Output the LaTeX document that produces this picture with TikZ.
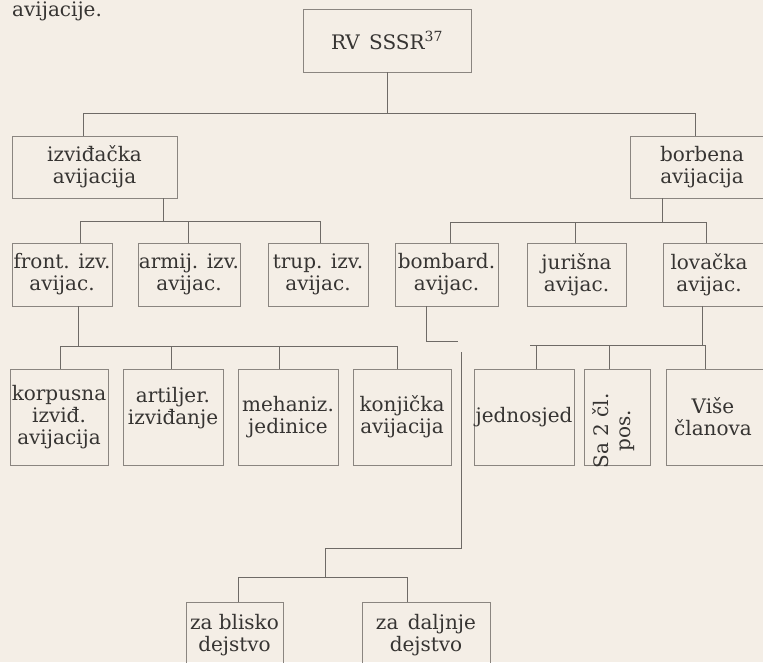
\documentclass[tikz,border=0pt]{standalone}
\usepackage{fontspec}
\setmainfont{DejaVu Serif}
\definecolor{paper}{HTML}{F4EEE6}
\definecolor{ink}{HTML}{363432}
\definecolor{rulec}{HTML}{6E6A66}
\definecolor{boxrule}{HTML}{8A8580}
\begin{document}
\begin{tikzpicture}[x=1pt,y=-1pt,
  txt/.style={text=ink, inner sep=0pt, align=center, font=\fontsize{20}{22}\selectfont},
  box/.style={txt, draw=boxrule, line width=0.8pt},
  conn/.style={draw=rulec, line width=1pt}]
\fill[paper] (0,0) rectangle (763,662);
\useasboundingbox (0,0) rectangle (763,662);
% stray line of page text
\node[txt, anchor=base west] (topline) at (12,16) {avijacije.};
% level 0
\node[box, minimum width=168pt, minimum height=63pt] (rv) at (387,40.5) {RV\hspace{3pt} SSSR\textsuperscript{37}};
% level 1
\node[box, minimum width=165pt, minimum height=62pt] (izv) at (94.5,167) {izviđačka\\avijacija};
\node[box, minimum width=144pt, minimum height=62pt] (borb) at (702,167) {borbena\\avijacija};
% level 2
\node[box, minimum width=100pt, minimum height=63pt] (front) at (62,274.5) {front. izv.\\avijac.};
\node[box, minimum width=102pt, minimum height=63pt] (armij) at (189,274.5) {armij. izv.\\avijac.};
\node[box, minimum width=100pt, minimum height=63pt] (trup) at (318,274.5) {trup. izv.\\avijac.};
\node[box, minimum width=103pt, minimum height=63pt] (bomb) at (446.5,274.5) {bombard.\\avijac.};
\node[box, minimum width=99pt, minimum height=63pt] (jur) at (576.5,274.5) {jurišna\\avijac.};
\node[box, minimum width=110pt, minimum height=63pt] (lovbox) at (718,274.5) {};
\node[txt] (lov) at (709,274.5) {lovačka\\avijac.};
% level 3
\node[box, minimum width=98pt, minimum height=96pt] (korp) at (59,417) {korpusna\\izviđ.\\avijacija};
\node[box, minimum width=100pt, minimum height=96pt] (art) at (173,417) {artiljer.\\izviđanje\\\mbox{}};
\node[box, minimum width=100pt, minimum height=96pt] (meh) at (288,417) {mehaniz.\\jedinice};
\node[box, minimum width=98pt, minimum height=96pt] (konj) at (402,417) {konjička\\avijacija};
\node[box, minimum width=100pt, minimum height=96pt] (jed) at (524,417) {jednosjed};
\node[box, minimum width=66pt, minimum height=96pt] (sa2) at (617,417) {};
\node[txt, rotate=90] (sa2t) at (614,431) {Sa 2 čl.\\pos.};
\node[box, minimum width=110pt, minimum height=96pt] (visebox) at (721,417) {};
\node[txt] (vise) at (713,417) {Više\\članova};
% level 4
\node[box, minimum width=97pt, minimum height=66pt] (zab) at (234.5,635) {za blisko\\dejstvo};
\node[box, minimum width=128pt, minimum height=66pt] (zad) at (426,635) {za\hspace{3pt} daljnje\\dejstvo};
% connectors: top
\coordinate (b1l) at (83,113);
\coordinate (b1r) at (695,113);
\draw[conn] (rv.south) -- (rv.south |- b1l);
\draw[conn] (b1l) -- (b1r);
\draw[conn] (b1l) -- (b1l |- izv.north);
\draw[conn] (b1r) -- (b1r |- borb.north);
% izvidacka
\coordinate (izvd) at (163,221);
\coordinate (b2l) at (80,221);
\coordinate (b2m) at (188,221);
\coordinate (b2r) at (320,221);
\draw[conn] (izvd |- izv.south) -- (izvd);
\draw[conn] (b2l) -- (b2r);
\draw[conn] (b2l) -- (b2l |- front.north);
\draw[conn] (b2m) -- (b2m |- armij.north);
\draw[conn] (b2r) -- (b2r |- trup.north);
% borbena
\coordinate (b3d) at (662,222);
\coordinate (b3l) at (450,222);
\coordinate (b3m) at (575,222);
\coordinate (b3r) at (706,222);
\draw[conn] (b3d |- borb.south) -- (b3d);
\draw[conn] (b3l) -- (b3r);
\draw[conn] (b3l) -- (b3l |- bomb.north);
\draw[conn] (b3m) -- (b3m |- jur.north);
\draw[conn] (b3r) -- (b3r |- lovbox.north);
% front
\coordinate (b4d) at (78,346);
\coordinate (b4a) at (60,346);
\coordinate (b4b) at (171,346);
\coordinate (b4c) at (279,346);
\coordinate (b4e) at (397,346);
\draw[conn] (b4d |- front.south) -- (b4d);
\draw[conn] (b4a) -- (b4e);
\draw[conn] (b4a) -- (b4a |- korp.north);
\draw[conn] (b4b) -- (b4b |- art.north);
\draw[conn] (b4c) -- (b4c |- meh.north);
\draw[conn] (b4e) -- (b4e |- konj.north);
% bombard
\coordinate (bk1) at (426,341);
\coordinate (bk2) at (458,341);
\draw[conn] (bk1 |- bomb.south) -- (bk1) -- (bk2);
\coordinate (bv1) at (461,352);
\coordinate (bv2) at (461,548);
\coordinate (bv3) at (325,548);
\coordinate (bv4) at (325,577);
\coordinate (b6l) at (238,577);
\coordinate (b6r) at (407,577);
\draw[conn] (bv1) -- (bv2) -- (bv3) -- (bv4);
\draw[conn] (b6l) -- (b6r);
\draw[conn] (b6l) -- (b6l |- zab.north);
\draw[conn] (b6r) -- (b6r |- zad.north);
% lovacka
\coordinate (b5d) at (702,345);
\coordinate (b5s) at (530,345);
\coordinate (b5a) at (536,345);
\coordinate (b5b) at (609,345);
\coordinate (b5c) at (705,345);
\draw[conn] (b5d |- lovbox.south) -- (b5d);
\draw[conn] (b5s) -- (b5c);
\draw[conn] (b5a) -- (b5a |- jed.north);
\draw[conn] (b5b) -- (b5b |- sa2.north);
\draw[conn] (b5c) -- (b5c |- visebox.north);
\end{tikzpicture}
\end{document}
